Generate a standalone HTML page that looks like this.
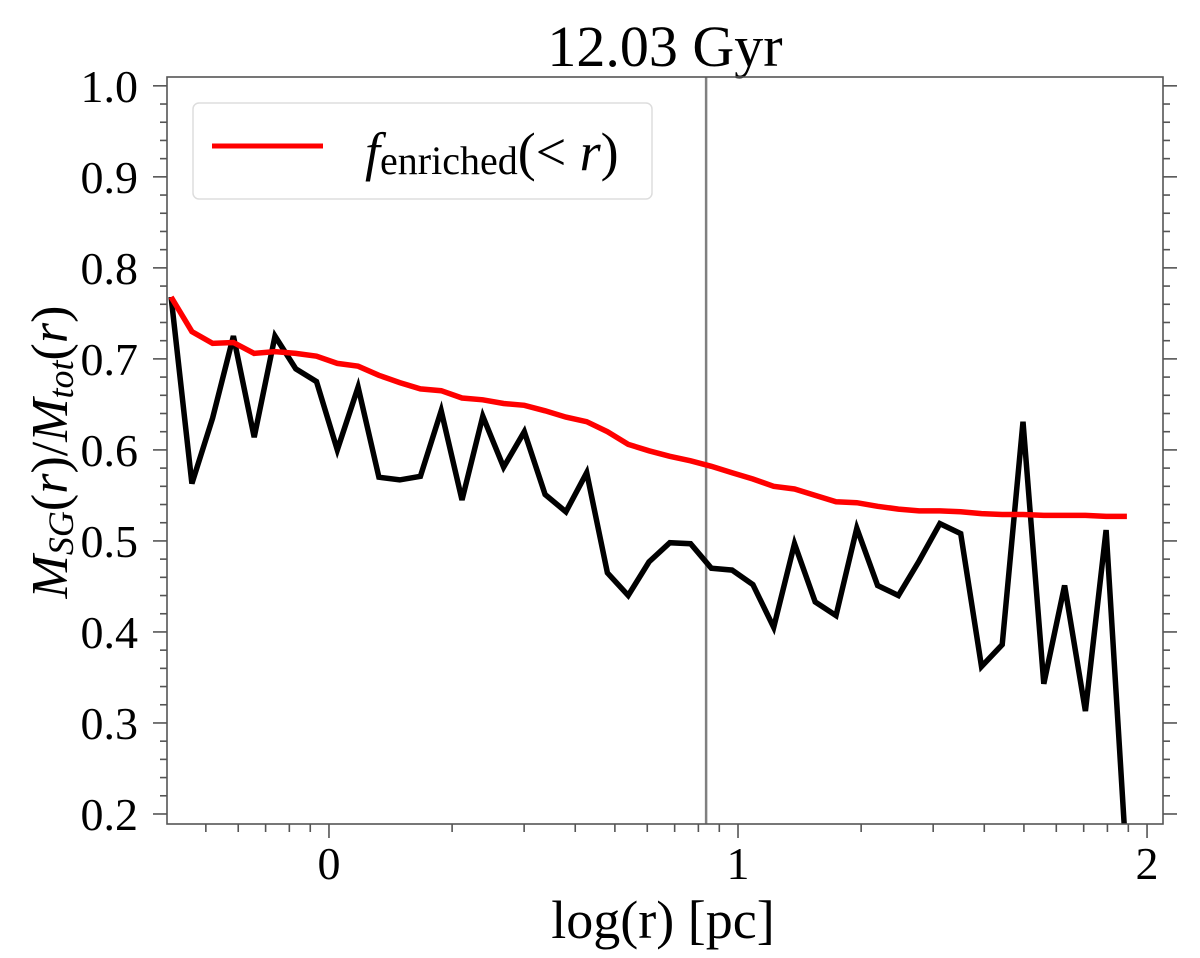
<!DOCTYPE html>
<html><head><meta charset="utf-8"><style>
html,body{margin:0;padding:0;background:#fff;}
svg{display:block;font-family:"Liberation Serif","DejaVu Serif",serif;}
</style></head><body>
<svg id="chart" width="1200" height="958" viewBox="0 0 1200 958" xmlns="http://www.w3.org/2000/svg">
<text x="665" y="66" font-size="58" text-anchor="middle">12.03 Gyr</text>
<g id="plot"></g>
<text x="663" y="938" font-size="54" text-anchor="middle">log(r) [pc]</text>
<text transform="translate(67,452) rotate(-90)" font-size="52" text-anchor="middle"><tspan font-style="italic">M</tspan><tspan font-style="italic" font-size="36" dy="6">SG</tspan><tspan dy="-6">(</tspan><tspan font-style="italic">r</tspan><tspan>)/</tspan><tspan font-style="italic">M</tspan><tspan font-style="italic" font-size="36" dy="6">tot</tspan><tspan dy="-6">(</tspan><tspan font-style="italic">r</tspan><tspan>)</tspan></text>
<g>
<rect x="193" y="103" width="459" height="96" rx="6" fill="#fff" stroke="#ddd" stroke-width="1.5"/>
<line x1="212" y1="146" x2="323" y2="146" stroke="#ff0000" stroke-width="5"/>
<text x="365" y="170" font-size="54"><tspan font-style="italic">f</tspan><tspan font-size="40" dy="4">enriched</tspan><tspan dy="-4">(&lt; </tspan><tspan font-style="italic">r</tspan><tspan>)</tspan></text>
</g>
</svg>
<script>
const xTicks = [0, 1, 2];
const xTickLabels = ["0", "1", "2"];
const yTicks = [0.2, 0.3, 0.4, 0.5, 0.6, 0.7, 0.8, 0.9, 1.0];
const yTickLabels = ["0.2", "0.3", "0.4", "0.5", "0.6", "0.7", "0.8", "0.9", "1.0"];
const logR = [];
for (let k = 0; k < 47; k++) logR.push(-0.386 + k * 0.0508);
const sgFraction = [0.768,0.563,0.635,0.725,0.614,0.725,0.689,0.675,0.600,0.669,0.570,0.567,0.571,0.643,0.545,0.637,0.581,0.620,0.551,0.532,0.575,0.465,0.440,0.477,0.498,0.497,0.470,0.468,0.452,0.405,0.497,0.433,0.418,0.514,0.451,0.440,0.478,0.519,0.508,0.362,0.386,0.631,0.343,0.451,0.313,0.512,0.14];
const enrichedFraction = [0.768,0.730,0.717,0.718,0.706,0.708,0.706,0.703,0.695,0.692,0.682,0.674,0.667,0.665,0.657,0.655,0.651,0.649,0.643,0.636,0.631,0.620,0.606,0.599,0.593,0.588,0.582,0.575,0.568,0.560,0.557,0.550,0.543,0.542,0.538,0.535,0.533,0.533,0.532,0.530,0.529,0.529,0.528,0.528,0.528,0.527,0.527];
const vLineX = 0.922;

const L=167,R=1163,T=77,B=824;
const xMin=-0.396,xMax=2.039,yMin=0.189,yMax=1.0097;
const X=v=>L+(v-xMin)/(xMax-xMin)*(R-L);
const Y=v=>B-(v-yMin)/(yMax-yMin)*(B-T);
const NS="http://www.w3.org/2000/svg";
const plot=document.getElementById('plot');
function mk(tag,attrs,parent){const e=document.createElementNS(NS,tag);for(const k in attrs)e.setAttribute(k,attrs[k]);(parent||plot).appendChild(e);return e;}

const defs=mk('defs',{});
const cp=mk('clipPath',{id:'clip'},defs);
mk('rect',{x:L,y:T,width:R-L,height:B-T},cp);

const vl=mk('line',{x1:X(vLineX),x2:X(vLineX),y1:T,y2:B,stroke:'#808080','stroke-width':2.5});



function path(vals,color,name){
  let d='';
  vals.forEach((v,i)=>{d+=(i?'L':'M')+X(logR[i]).toFixed(1)+' '+Y(v).toFixed(1);});
  const p=mk('path',{d:d,fill:'none',stroke:color,'stroke-width':5.5,'stroke-linejoin':'miter','clip-path':'url(#clip)'});
  
  
}
path(sgFraction,'#000','sg-fraction-line');
path(enrichedFraction,'#ff0000','enriched-fraction-line');

const sp=mk('rect',{x:L,y:T,width:R-L,height:B-T,fill:'none',stroke:'#555','stroke-width':1.6});



for(let i=0;i<=45;i++){
  const v=0.2+i*0.02; if(v>yMax+1e-9)break;
  const major=i%5===0, len=major?14:7, y=Y(v);
  mk('line',{x1:L-len,x2:L,y1:y,y2:y,stroke:'#555','stroke-width':1.6});
  mk('line',{x1:R,x2:R+len,y1:y,y2:y,stroke:'#555','stroke-width':1.6});
}
yTicks.forEach((v,i)=>{
  const t=mk('text',{x:138,y:Y(v)+16,'font-size':46,'text-anchor':'end'});
  t.textContent=yTickLabels[i];
  
  
});
for(let dec=-1;dec<=2;dec++){
  for(let m=1;m<=9;m++){
    const v=dec+Math.log10(m);
    if(v<xMin||v>xMax)continue;
    const len=m===1?14:8,x=X(v);
    mk('line',{x1:x,x2:x,y1:B,y2:B+len,stroke:'#555','stroke-width':1.6});
  }
}
xTicks.forEach((v,i)=>{
  const t=mk('text',{x:X(v),y:879,'font-size':46,'text-anchor':'middle'});
  t.textContent=xTickLabels[i];
  
  
});
</script>
</body></html>
